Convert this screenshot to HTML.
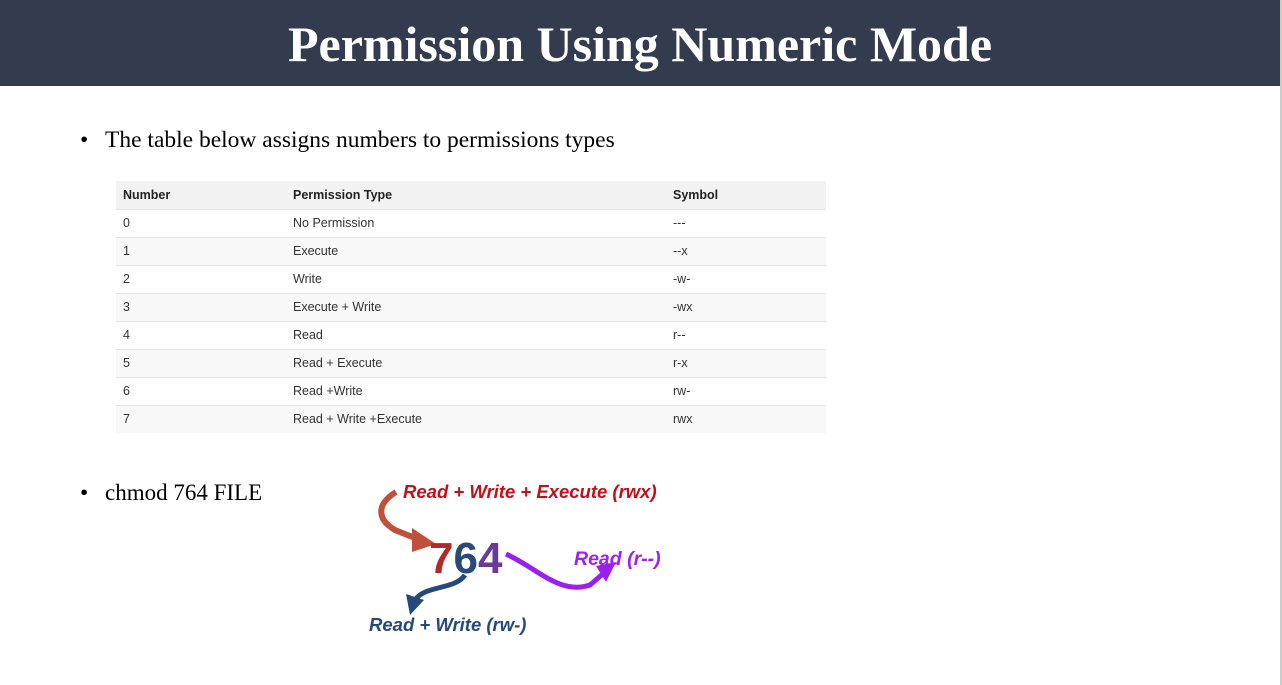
<!DOCTYPE html>
<html><head><style>
body{margin:0;width:1282px;height:685px;background:#fff;position:relative;overflow:hidden;font-family:"Liberation Serif",serif}
.hdr{position:absolute;left:0;top:0;width:1280px;height:86px;background:#333c4f;color:#fff;text-align:center;font-weight:bold;font-size:50px;line-height:88px}
.rb{position:absolute;left:1280px;top:0;width:2px;height:685px;background:#ccc}
.b{position:absolute;font-size:23.5px;color:#000;white-space:nowrap}
table{position:absolute;left:116px;top:181px;width:710px;border-collapse:collapse;font-family:"Liberation Sans",sans-serif;font-size:12.5px;color:#333}
td,th{height:28px;padding:0 0 0 7px;text-align:left;border-top:1px solid #e4e4e4;box-sizing:border-box}
th{background:#f2f2f2;font-weight:bold;color:#222;border-top:none}
tr:nth-child(odd) td{background:#f8f8f8}
.hw{position:absolute;font-family:"Liberation Sans",sans-serif;font-weight:bold;font-style:italic;white-space:nowrap}
</style></head><body>
<div class="hdr">Permission Using Numeric Mode</div><div class="rb"></div>
<div class="b" style="left:80px;top:127px">•</div>
<div class="b" style="left:105px;top:127px">The table below assigns numbers to permissions types</div>
<table>
<tr><th style="width:170px">Number</th><th style="width:380px">Permission Type</th><th>Symbol</th></tr>
<tr><td>0</td><td>No Permission</td><td>---</td></tr>
<tr><td>1</td><td>Execute</td><td>--x</td></tr>
<tr><td>2</td><td>Write</td><td>-w-</td></tr>
<tr><td>3</td><td>Execute + Write</td><td>-wx</td></tr>
<tr><td>4</td><td>Read</td><td>r--</td></tr>
<tr><td>5</td><td>Read + Execute</td><td>r-x</td></tr>
<tr><td>6</td><td>Read +Write</td><td>rw-</td></tr>
<tr><td>7</td><td>Read + Write +Execute</td><td>rwx</td></tr>
</table>
<div class="b" style="left:80px;top:480px">•</div>
<div class="b" style="left:105px;top:480px;font-size:23px">chmod 764 FILE</div>
<svg style="position:absolute;left:0;top:0" width="1282" height="685">
<path d="M396,492 C375,505 378,520 395,530 L420,540" stroke="#c0503a" stroke-width="6" fill="none"/>
<polygon points="412,528 436,544 412,552" fill="#c0503a"/>
<path d="M506,554 C540,570 560,595 590,585 L605,572" stroke="#9b1ff0" stroke-width="5" fill="none"/>
<polygon points="596,566 616,562 606,582" fill="#9b1ff0"/>
<path d="M465,575 C455,590 425,585 415,600" stroke="#234a7a" stroke-width="5" fill="none"/>
<polygon points="406,594 424,600 410,615" fill="#234a7a"/>
<text x="429" y="573" font-family="Liberation Sans" font-weight="bold" font-size="44" fill="#b02a2a">7<tspan fill="#2a4a78">6</tspan><tspan fill="#6a3a9a">4</tspan></text>
</svg>
<div class="hw" style="left:403px;top:481px;font-size:18.5px;color:#c0101a">Read + Write + Execute (rwx)</div>
<div class="hw" style="left:574px;top:548px;font-size:19.5px;color:#a020f0">Read (r--)</div>
<div class="hw" style="left:369px;top:614px;font-size:18.5px;color:#234a7a">Read + Write (rw-)</div>
</body></html>
